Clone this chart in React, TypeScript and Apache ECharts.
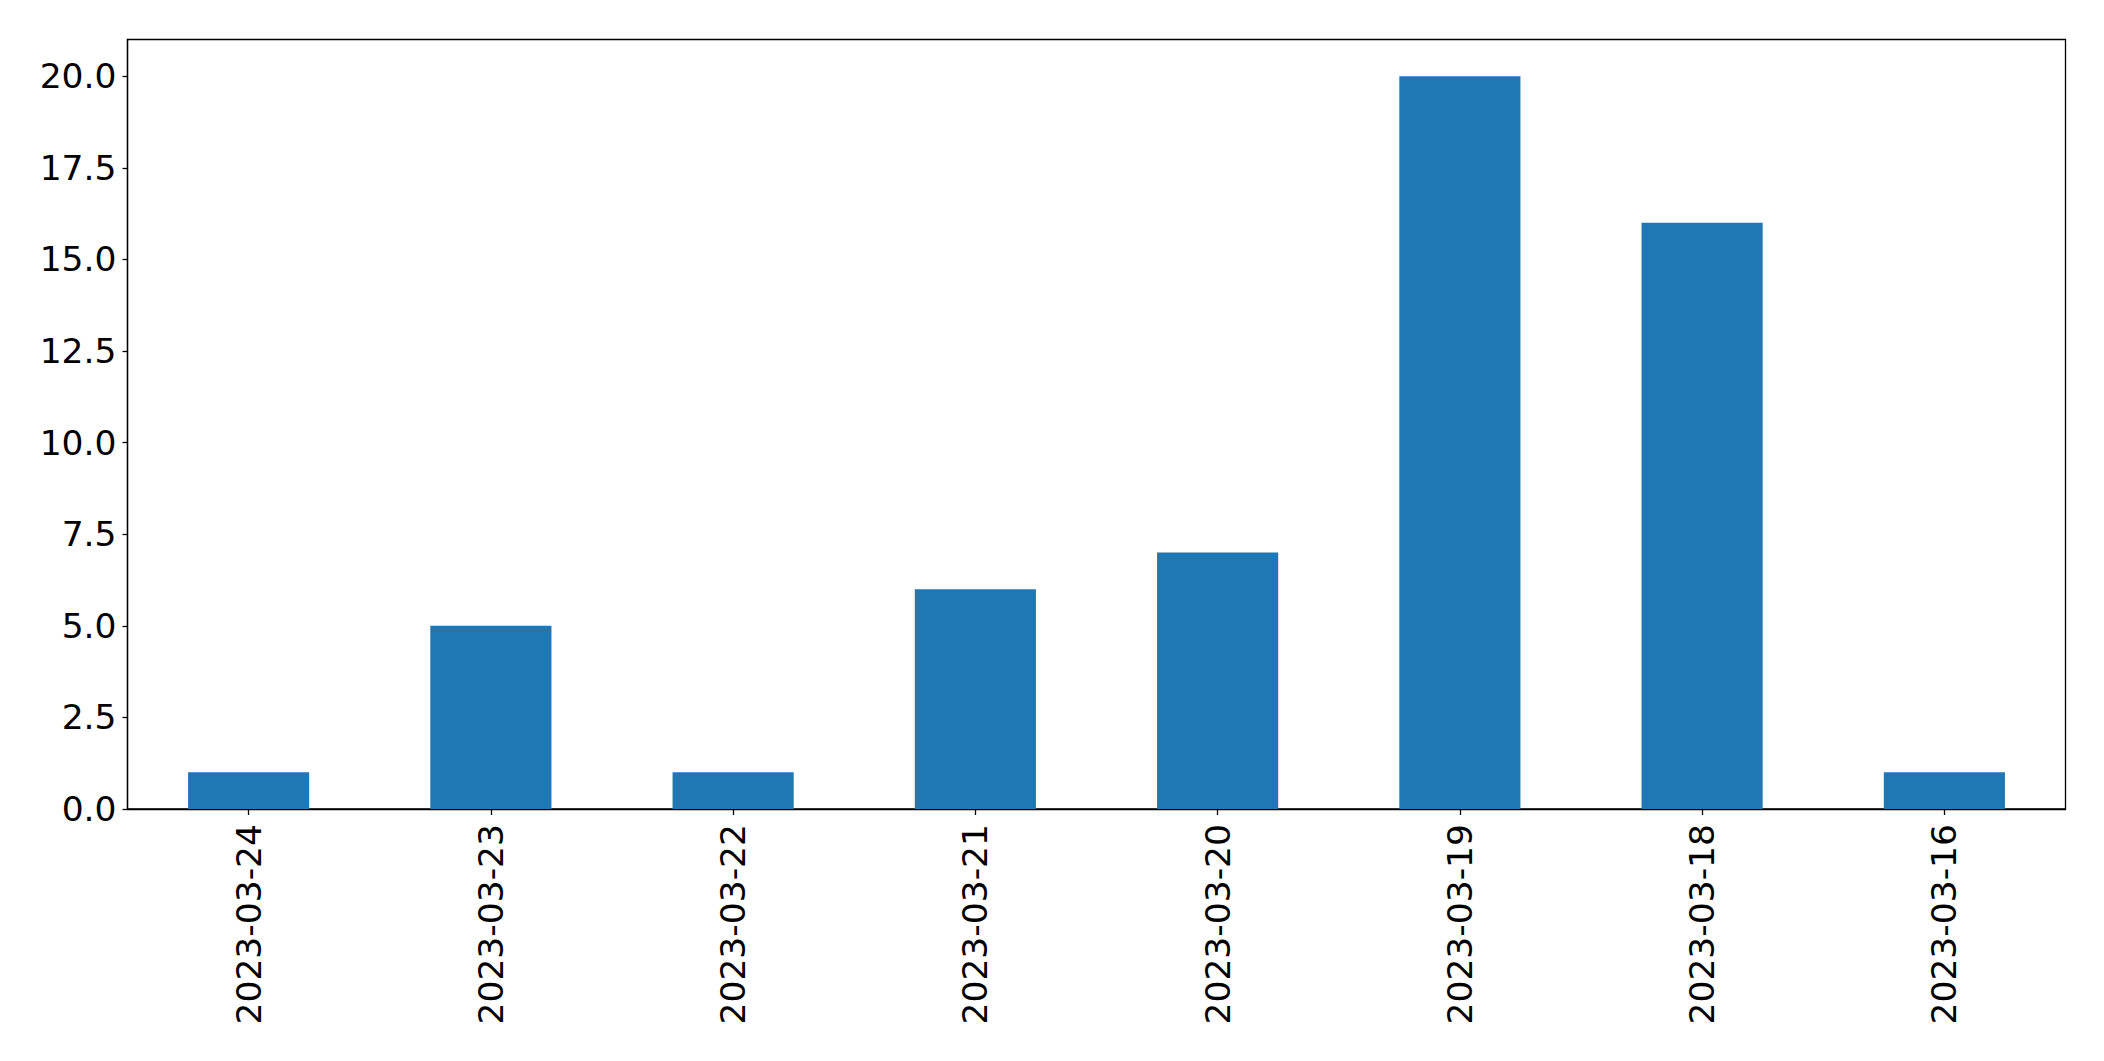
import React, { useEffect, useRef } from "react";
import * as echarts from "echarts";

const categories = ["2023-03-24", "2023-03-23", "2023-03-22", "2023-03-21", "2023-03-20", "2023-03-19", "2023-03-18", "2023-03-16"];
const values = [1, 5, 1, 6, 7, 20, 16, 1];
const yTicks = [0, 2.5, 5, 7.5, 10, 12.5, 15, 17.5, 20];
const yMax = 21;

export default function App() {
  const ref = useRef<HTMLDivElement>(null);
  useEffect(() => {
    if (!ref.current) return;
    const chart = echarts.init(ref.current, undefined, { renderer: "svg" });
    const font = "DejaVu Sans";
    chart.setOption({
      animation: false,
      backgroundColor: "#ffffff",
      grid: {
        left: 127.5,
        top: 39.5,
        right: 38.5,
        bottom: 252,
        containLabel: false,
        show: true,
        borderColor: "#000000",
        borderWidth: 1.3,
        backgroundColor: "transparent",
      },
      xAxis: {
        type: "category",
        data: categories,
        boundaryGap: true,
        axisLine: { show: true, lineStyle: { color: "#000000", width: 1.3 } },
        axisTick: { show: true, alignWithLabel: true, length: 6, lineStyle: { color: "#000000", width: 1.3 } },
        axisLabel: {
          rotate: 90,
          margin: 15,
          color: "#000000",
          fontFamily: font,
          fontSize: 34.5,
          interval: 0,
        },
        splitLine: { show: false },
      },
      yAxis: {
        type: "value",
        min: 0,
        max: yMax,
        interval: 2.5,
        axisLine: { show: true, lineStyle: { color: "#000000", width: 1.3 } },
        axisTick: { show: true, length: 5, customValues: yTicks, lineStyle: { color: "#000000", width: 1.3 } },
        axisLabel: {
          customValues: yTicks,
          margin: 11,
          color: "#000000",
          fontFamily: font,
          fontSize: 34.5,
          formatter: (v: number) => v.toFixed(1),
        },
        splitLine: { show: false },
      },
      series: [
        {
          type: "bar",
          data: values,
          barWidth: "50%",
          itemStyle: { color: "#1f77b4" },
        },
      ],
    });
    return () => chart.dispose();
  }, []);
  return (
    <div
      ref={ref}
      style={{ position: "fixed", left: 0, top: 0, width: 2104, height: 1061, background: "#fff" }}
    />
  );
}
